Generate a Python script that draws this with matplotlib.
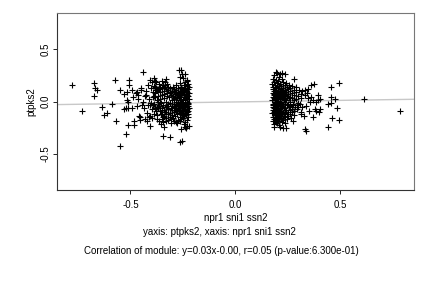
import matplotlib
matplotlib.use('Agg')
import matplotlib.pyplot as plt
import numpy as np

plt.rcParams['font.family'] = ['Liberation Sans', 'DejaVu Sans']

# points (x: npr1 sni1 ssn2, y: ptpks2)
left_pts = [
    (-0.781, 0.154), (-0.732, -0.087), (-0.675, 0.173), (-0.675, 0.055), (-0.667, 0.125),
    (-0.659, 0.106), (-0.637, -0.048), (-0.627, -0.128), (-0.614, -0.109), (-0.587, -0.022),
    (-0.575, 0.209), (-0.570, -0.183), (-0.548, 0.106), (-0.548, -0.423), (-0.522, -0.311),
    (-0.508, 0.209), (-0.508, 0.154), (-0.529, 0.074), (-0.519, 0.089), (-0.511, -0.007),
    (-0.516, 0.010), (-0.532, -0.070), (-0.522, -0.061), (-0.511, -0.061), (-0.510, -0.221),
    (-0.495, 0.113), (-0.487, 0.041), (-0.484, -0.183), (-0.481, -0.221), (-0.492, -0.061),
    (-0.476, 0.080), (-0.468, 0.089), (-0.465, 0.026), (-0.452, 0.132), (-0.460, -0.135),
    (-0.456, -0.151), (-0.456, -0.176), (-0.440, 0.282), (-0.444, -0.038), (-0.427, 0.067),
    (-0.420, -0.183), (-0.411, -0.151), (-0.408, -0.231), (-0.416, -0.038), (-0.405, -0.029),
    (-0.405, 0.202), (-0.397, 0.186), (-0.389, 0.228), (-0.384, 0.195), (-0.395, 0.041),
    (-0.389, 0.051), (-0.380, 0.106), (-0.373, 0.010), (-0.373, -0.048), (-0.367, -0.061),
    (-0.346, -0.327), (-0.313, -0.337), (-0.270, 0.305), (-0.259, 0.305), (-0.262, 0.240),
    (-0.254, 0.260), (-0.241, 0.266), (-0.230, 0.195), (-0.262, -0.391), (-0.254, -0.375),
    (-0.230, -0.231), (-0.222, -0.231),
    # middle part
    (-0.415, 0.16), (-0.402, 0.13), (-0.395, 0.09), (-0.388, 0.15), (-0.379, 0.19),
    (-0.371, 0.12), (-0.366, 0.17), (-0.358, 0.14), (-0.352, 0.20), (-0.347, 0.16),
    (-0.341, 0.13), (-0.335, 0.19), (-0.331, 0.22), (-0.326, 0.17), (-0.322, 0.14),
    (-0.412, 0.02), (-0.404, -0.01), (-0.398, -0.07), (-0.391, -0.03), (-0.383, 0.04),
    (-0.377, -0.09), (-0.369, -0.05), (-0.361, 0.00), (-0.356, -0.12), (-0.349, -0.08),
    (-0.343, -0.15), (-0.337, -0.10), (-0.333, -0.19), (-0.327, -0.04), (-0.419, -0.11),
    (-0.409, -0.14), (-0.396, -0.16), (-0.386, -0.12), (-0.374, -0.17), (-0.364, -0.19),
    (-0.354, -0.22), (-0.344, -0.20), (-0.338, -0.24), (-0.430, 0.05), (-0.436, -0.06),
    (-0.448, 0.11), (-0.442, 0.00), (-0.425, 0.10), (-0.432, -0.17), (-0.463, 0.06),
    (-0.470, -0.04),
    # dense part
    (-0.224, 0.17), (-0.227, 0.12), (-0.223, 0.08), (-0.226, 0.05), (-0.222, 0.02),
    (-0.225, -0.01), (-0.228, -0.04), (-0.223, -0.06), (-0.226, -0.09), (-0.224, -0.12),
    (-0.227, -0.15), (-0.222, 0.14), (-0.225, -0.02),
    (-0.233, 0.21), (-0.230, 0.15), (-0.235, 0.10), (-0.231, 0.06), (-0.234, 0.03),
    (-0.232, 0.00), (-0.236, -0.03), (-0.230, -0.07), (-0.233, -0.10), (-0.235, -0.13),
    (-0.231, -0.18), (-0.234, -0.25), (-0.232, 0.09),
    (-0.241, 0.19), (-0.238, 0.13), (-0.243, 0.07), (-0.239, 0.04), (-0.242, 0.01),
    (-0.240, -0.02), (-0.244, -0.05), (-0.238, -0.08), (-0.241, -0.11), (-0.243, -0.14),
    (-0.239, -0.20), (-0.242, -0.24), (-0.240, 0.11),
    (-0.249, 0.23), (-0.246, 0.16), (-0.251, 0.11), (-0.247, 0.06), (-0.250, 0.02),
    (-0.248, -0.01), (-0.252, -0.04), (-0.246, -0.07), (-0.249, -0.12), (-0.251, -0.16),
    (-0.247, -0.22), (-0.250, 0.09), (-0.248, -0.09),
    (-0.257, 0.14), (-0.254, 0.08), (-0.259, 0.04), (-0.255, 0.00), (-0.258, -0.03),
    (-0.256, -0.06), (-0.260, -0.10), (-0.254, -0.13), (-0.257, -0.17), (-0.259, -0.26),
    (-0.255, 0.12), (-0.258, 0.02),
    (-0.266, 0.18), (-0.263, 0.10), (-0.268, 0.05), (-0.264, 0.01), (-0.267, -0.02),
    (-0.265, -0.05), (-0.269, -0.08), (-0.263, -0.15), (-0.266, -0.19), (-0.268, 0.07),
    (-0.264, -0.11),
    (-0.275, 0.13), (-0.272, 0.09), (-0.277, 0.03), (-0.273, -0.01), (-0.276, -0.04),
    (-0.274, -0.07), (-0.278, -0.12), (-0.272, -0.18), (-0.275, 0.06), (-0.277, -0.21),
    (-0.284, 0.16), (-0.281, 0.11), (-0.286, 0.04), (-0.282, 0.00), (-0.285, -0.03),
    (-0.283, -0.09), (-0.287, -0.14), (-0.281, -0.20), (-0.284, 0.08), (-0.286, -0.06),
    (-0.293, 0.12), (-0.290, 0.07), (-0.295, 0.02), (-0.291, -0.02), (-0.294, -0.05),
    (-0.292, -0.10), (-0.296, -0.16), (-0.290, 0.09), (-0.293, -0.19),
    (-0.302, 0.10), (-0.299, 0.05), (-0.304, 0.01), (-0.300, -0.04), (-0.303, -0.08),
    (-0.301, -0.13), (-0.305, -0.17), (-0.299, 0.14),
    (-0.311, 0.13), (-0.308, 0.06), (-0.313, -0.01), (-0.309, -0.06), (-0.312, -0.11),
    (-0.310, -0.15), (-0.314, 0.09), (-0.308, -0.21),
    (-0.321, 0.11), (-0.318, 0.04), (-0.323, -0.02), (-0.319, -0.07), (-0.322, -0.12),
    (-0.320, -0.18), (-0.324, 0.08),
    (-0.331, 0.12), (-0.328, 0.05), (-0.333, 0.00), (-0.329, -0.05), (-0.332, -0.10),
    (-0.330, -0.16), (-0.334, 0.16),
    (-0.341, 0.10), (-0.338, 0.03), (-0.343, -0.03), (-0.339, -0.08), (-0.342, -0.14),
    (-0.340, 0.07),
    (-0.351, 0.13), (-0.348, 0.06), (-0.353, -0.01), (-0.349, -0.06), (-0.352, -0.12),
    (-0.350, -0.17),
    (-0.361, 0.09), (-0.358, 0.02), (-0.363, -0.04), (-0.359, -0.09), (-0.362, 0.12),
    (-0.372, 0.11), (-0.370, 0.00), (-0.374, -0.13), (-0.371, 0.05),
    (-0.385, 0.08), (-0.383, -0.06), (-0.387, -0.02), (-0.384, 0.14),
]

right_pts = [
    (0.195, 0.282), (0.224, 0.272), (0.235, 0.260), (0.278, 0.218), (0.319, 0.099),
    (0.330, 0.113), (0.346, 0.122), (0.362, 0.163), (0.375, 0.170), (0.457, 0.144),
    (0.492, 0.176), (0.611, 0.026), (0.782, -0.087), (0.457, 0.041), (0.476, 0.026),
    (0.441, -0.022), (0.457, -0.016), (0.394, 0.064), (0.405, 0.026), (0.362, 0.041),
    (0.370, 0.019), (0.357, 0.000), (0.386, -0.007), (0.394, 0.010), (0.378, -0.070),
    (0.386, -0.087), (0.402, -0.070), (0.399, -0.103), (0.484, -0.064), (0.370, -0.151),
    (0.462, -0.161), (0.494, -0.173), (0.441, -0.240), (0.330, -0.262), (0.335, -0.279),
    (0.275, -0.189), (0.263, -0.157), (0.251, -0.141), (0.182, -0.240), (0.227, -0.253),
    (0.240, -0.257), (0.319, -0.055), (0.314, -0.103), (0.314, -0.118), (0.332, 0.06),
    (0.345, 0.03), (0.338, -0.04), (0.350, -0.09), (0.326, -0.14), (0.342, 0.08),
    # dense part
    (0.178, 0.22), (0.176, 0.17), (0.180, 0.12), (0.177, 0.08), (0.179, 0.04),
    (0.176, 0.01), (0.180, -0.02), (0.177, -0.05), (0.179, -0.08), (0.176, -0.11),
    (0.180, -0.15), (0.177, -0.19), (0.179, 0.14), (0.178, -0.03),
    (0.185, 0.25), (0.183, 0.19), (0.187, 0.14), (0.184, 0.10), (0.186, 0.06),
    (0.183, 0.03), (0.187, 0.00), (0.184, -0.03), (0.186, -0.06), (0.183, -0.10),
    (0.187, -0.13), (0.184, -0.17), (0.186, -0.22), (0.185, 0.07), (0.183, -0.08),
    (0.192, 0.21), (0.190, 0.16), (0.194, 0.11), (0.191, 0.07), (0.193, 0.04),
    (0.190, 0.01), (0.194, -0.02), (0.191, -0.05), (0.193, -0.09), (0.190, -0.12),
    (0.194, -0.16), (0.191, -0.20), (0.193, 0.13), (0.192, -0.01),
    (0.199, 0.27), (0.197, 0.18), (0.201, 0.13), (0.198, 0.09), (0.200, 0.05),
    (0.197, 0.02), (0.201, -0.01), (0.198, -0.04), (0.200, -0.07), (0.197, -0.11),
    (0.201, -0.14), (0.198, -0.18), (0.200, -0.21), (0.199, 0.00),
    (0.206, 0.24), (0.204, 0.20), (0.208, 0.15), (0.205, 0.10), (0.207, 0.06),
    (0.204, 0.03), (0.208, -0.01), (0.205, -0.04), (0.207, -0.08), (0.204, -0.12),
    (0.208, -0.15), (0.205, -0.19), (0.207, -0.23), (0.206, 0.08),
    (0.213, 0.26), (0.211, 0.17), (0.215, 0.12), (0.212, 0.08), (0.214, 0.04),
    (0.211, 0.00), (0.215, -0.03), (0.212, -0.06), (0.214, -0.10), (0.211, -0.13),
    (0.215, -0.17), (0.212, -0.24), (0.213, 0.02),
    (0.220, 0.22), (0.218, 0.15), (0.222, 0.11), (0.219, 0.07), (0.221, 0.03),
    (0.218, -0.01), (0.222, -0.05), (0.219, -0.09), (0.221, -0.12), (0.218, -0.16),
    (0.222, -0.20), (0.220, 0.05),
    (0.228, 0.19), (0.226, 0.13), (0.230, 0.08), (0.227, 0.04), (0.229, 0.01),
    (0.226, -0.02), (0.230, -0.06), (0.227, -0.10), (0.229, -0.14), (0.226, -0.18),
    (0.228, 0.10),
    (0.236, 0.16), (0.234, 0.11), (0.238, 0.06), (0.235, 0.02), (0.237, -0.02),
    (0.234, -0.06), (0.238, -0.11), (0.235, -0.15), (0.237, 0.09), (0.236, -0.21),
    (0.244, 0.14), (0.242, 0.09), (0.246, 0.05), (0.243, 0.01), (0.245, -0.03),
    (0.242, -0.08), (0.246, -0.12), (0.243, 0.18), (0.245, -0.17),
    (0.252, 0.12), (0.250, 0.07), (0.254, 0.03), (0.251, -0.02), (0.253, -0.05),
    (0.250, -0.10), (0.254, 0.16), (0.252, -0.14),
    (0.260, 0.10), (0.258, 0.04), (0.262, 0.00), (0.259, -0.04), (0.261, -0.08),
    (0.258, 0.13), (0.262, -0.12),
    (0.270, 0.08), (0.268, 0.03), (0.272, -0.03), (0.269, -0.07), (0.271, 0.15),
    (0.268, -0.10), (0.272, -0.02),
    (0.280, 0.06), (0.278, 0.01), (0.282, -0.05), (0.279, 0.11), (0.281, -0.09),
    (0.278, -0.13),
    (0.290, 0.09), (0.288, 0.02), (0.292, -0.03), (0.289, 0.14), (0.291, -0.07),
    (0.300, 0.05), (0.298, -0.01), (0.302, 0.11), (0.299, -0.05),
    (0.310, 0.07), (0.308, -0.02), (0.312, 0.03),
]

slope = 0.03
intercept = -0.004
xticks = [-0.5, 0.0, 0.5]
yticks = [-0.5, 0.0, 0.5]

fig = plt.figure(figsize=(4.32, 2.88), dpi=100)
ax = fig.add_axes([0.132, 0.340, 0.826, 0.615])

pts = np.array(left_pts + right_pts)
ax.plot(pts[:, 0], pts[:, 1], '+', color='black', ms=4, mew=0.8, zorder=3)

xl = np.array([-0.85, 0.85])
ax.plot(xl, slope * xl + intercept, color='#c8c8c8', lw=1, zorder=2)

ax.set_xlim(-0.85, 0.85)
ax.set_ylim(-0.85, 0.85)
ax.set_xticks(xticks)
ax.set_yticks(yticks)
ax.set_xticklabels(['-0.5', '0.0', '0.5'])
ax.set_yticklabels(['-0.5', '0.0', '0.5'], rotation=90, va='center')
ax.tick_params(labelsize=7, length=3, width=0.6)
ax.tick_params(axis='x', pad=4)
ax.tick_params(axis='y', pad=1.5)
for s in ['top', 'right']:
    ax.spines[s].set_color('#777777')
for s in ['left', 'bottom']:
    ax.spines[s].set_color('#333333')
for s in ax.spines.values():
    s.set_linewidth(0.8)

ax.set_xlabel('npr1 sni1 ssn2', fontsize=7, labelpad=2)
ax.set_ylabel('ptpks2', fontsize=7, labelpad=3)

fig.text(0.508, 1 - 232 / 288, 'yaxis: ptpks2, xaxis: npr1 sni1 ssn2',
         ha='center', va='center', fontsize=7)
fig.text(0.512, 1 - 251 / 288,
         'Correlation of module: y=0.03x-0.00, r=0.05 (p-value:6.300e-01)',
         ha='center', va='center', fontsize=7)

fig.savefig('out.png', dpi=100)
